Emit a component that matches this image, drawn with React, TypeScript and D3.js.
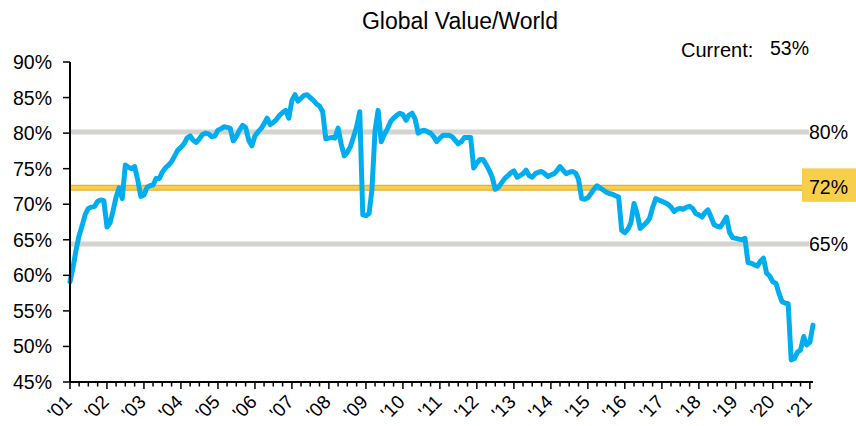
import * as d3 from "d3";

// monthly readings, Jan 2001 .. Feb 2021 (%)
const startMonth = new Date(2001, 0, 1);
const valueWorld = [
  59.1, 61.2, 63.5, 65.6, 67.0, 68.6, 69.4, 69.6, 69.7, 70.4, 70.6, 70.5, // 2001
  66.8, 67.4, 69.0, 71.0, 72.3, 70.8, 75.5, 75.2, 75.0, 75.3, 73.4, 71.1, // 2002
  71.3, 72.4, 72.6, 72.7, 73.6, 73.6, 74.5, 75.1, 75.5, 76.0, 76.8, 77.6, // 2003
  78.0, 78.5, 79.3, 79.6, 79.0, 78.7, 79.2, 79.8, 80.0, 79.9, 79.5, 79.6, // 2004
  80.4, 80.6, 80.9, 80.8, 80.7, 78.9, 79.5, 80.4, 81.1, 80.8, 79.0, 78.2, // 2005
  79.6, 80.2, 80.6, 81.3, 82.1, 81.2, 81.5, 81.9, 82.5, 82.9, 83.2, 82.1, // 2006
  84.6, 85.4, 84.5, 84.9, 85.3, 85.4, 85.0, 84.6, 84.1, 83.8, 83.0, 79.2, // 2007
  79.3, 79.4, 79.3, 80.7, 78.5, 76.8, 77.3, 78.1, 79.5, 80.9, 83.0, 68.5, // 2008
  68.4, 68.7, 72.0, 80.4, 83.2, 78.8, 79.8, 80.6, 81.6, 82.1, 82.5, 82.8, // 2009
  82.6, 81.8, 82.5, 82.8, 82.0, 80.0, 80.3, 80.4, 80.2, 80.0, 79.5, 78.8, // 2010
  79.3, 79.7, 79.7, 79.7, 79.5, 79.0, 78.5, 78.8, 79.4, 79.4, 79.4, 75.1, // 2011
  75.8, 76.3, 76.3, 75.6, 74.8, 73.8, 72.1, 72.4, 73.0, 73.6, 74.0, 74.4, // 2012
  74.7, 73.8, 74.0, 74.3, 74.8, 74.0, 73.8, 74.3, 74.5, 74.6, 74.3, 73.9, // 2013
  74.1, 74.3, 74.7, 75.3, 74.8, 74.3, 74.5, 74.6, 74.4, 73.5, 70.8, 70.7, // 2014
  70.9, 71.5, 72.1, 72.6, 72.3, 72.0, 71.7, 71.5, 71.4, 71.2, 71.0, 66.3, // 2015
  66.0, 66.5, 67.4, 70.1, 68.7, 66.6, 67.0, 67.4, 68.0, 69.5, 70.8, 70.6, // 2016
  70.4, 70.2, 70.0, 69.6, 69.0, 69.3, 69.4, 69.3, 69.6, 69.7, 69.4, 68.7, // 2017
  68.5, 68.2, 68.8, 69.2, 68.2, 67.1, 66.9, 66.8, 67.5, 68.2, 66.0, 65.3, // 2018
  65.2, 65.1, 65.0, 65.2, 61.8, 61.7, 61.5, 61.3, 62.0, 62.4, 60.3, 59.9, // 2019
  59.1, 58.9, 57.5, 56.3, 56.1, 56.0, 48.1, 48.3, 49.2, 49.5, 51.4, 50.2, // 2020
  50.6, 53.0, // 2021
];

const yTickValues = [45, 50, 55, 60, 65, 70, 75, 80, 85, 90];
const yearLabels = ["'01", "'02", "'03", "'04", "'05", "'06", "'07", "'08", "'09", "'10", "'11",
  "'12", "'13", "'14", "'15", "'16", "'17", "'18", "'19", "'20", "'21"];

// mean and +/- 1 sd bands
const bandValues = [80.15, 72.3, 64.4];
const bandLabels = ["80%", "72%", "65%"];

const currentLabel = "53%";
const font = "'Liberation Sans', Arial, sans-serif";

export default function App() {
  const width = 856;
  const height = 426;
  const left = 70, right = 813, top = 62, bottom = 382;

  const points = valueWorld.map((v, i) => ({ date: d3.timeMonth.offset(startMonth, i), v }));

  const x = d3.scaleTime()
    .domain([points[0].date, points[points.length - 1].date])
    .range([left, right]);
  const y = d3.scaleLinear().domain([45, 90]).range([bottom, top]);

  const line = d3.line<{ date: Date, v: number }>()
    .x(d => x(d.date))
    .y(d => y(d.v));

  const years = yearLabels.map((_, i) => new Date(2001 + i, 0, 1));
  const quarters = d3.timeMonth.every(3)!
    .range(startMonth, x.domain()[1])
    .filter(d => d.getMonth() !== 0);

  return (
    <svg width={width} height={height} style={{ position: 'absolute', left: 0, top: 0, fontFamily: font }}>
      <rect width={width} height={height} fill="#fff" />
      <text x={460} y={29} textAnchor="middle" fontSize={23}>Global Value/World</text>
      <text x={681} y={57} fontSize={20}>Current:</text>
      <text x={770} y={55} fontSize={19.5}>{currentLabel}</text>

      {/* reference bands */}
      {bandValues.map((b, i) => i === 1 ? (
        <g key={i}>
          <line x1={left} x2={803} y1={y(b)} y2={y(b)} stroke="#e9ad35" strokeWidth={6} />
          <line x1={left} x2={803} y1={y(b)} y2={y(b)} stroke="#f8cf4a" strokeWidth={3.5} />
          <rect x={802} y={y(b) - 19.5} width={54} height={33.5} fill="#f8cf4a" />
          <text x={809} y={y(b) + 6.5} fontSize={19.5}>{bandLabels[i]}</text>
        </g>
      ) : (
        <g key={i}>
          <line x1={left} x2={809} y1={y(b)} y2={y(b)} stroke="#d4d3cf" strokeWidth={5} />
          <text x={809} y={y(b) + 7} fontSize={19.5}>{bandLabels[i]}</text>
        </g>
      ))}

      <path d={line(points)!} fill="none" stroke="#00aeef" strokeWidth={5}
        strokeLinejoin="round" strokeLinecap="round" />

      {/* y axis */}
      <line x1={left} x2={left} y1={top} y2={bottom} stroke="#000" strokeWidth={2} />
      {yTickValues.map(t => (
        <g key={t}>
          <line x1={left - 7} x2={left} y1={y(t)} y2={y(t)} stroke="#000" strokeWidth={1.5} />
          <text x={52} y={y(t) + 7} textAnchor="end" fontSize={19.5}>{t}%</text>
        </g>
      ))}

      {/* x axis */}
      <line x1={left} x2={right} y1={bottom} y2={bottom} stroke="#000" strokeWidth={2} />
      {quarters.map(q => (
        <line key={+q} x1={x(q)} x2={x(q)} y1={bottom} y2={bottom + 4.5} stroke="#000" strokeWidth={1.5} />
      ))}
      {years.map((yr, i) => (
        <g key={i}>
          <line x1={x(yr)} x2={x(yr)} y1={bottom} y2={bottom + 7} stroke="#000" strokeWidth={1.5} />
          <text transform={`translate(${x(yr) + 3},${bottom + 21}) rotate(-45)`} textAnchor="end"
            fontSize={19}>{yearLabels[i]}</text>
        </g>
      ))}
    </svg>
  );
}
